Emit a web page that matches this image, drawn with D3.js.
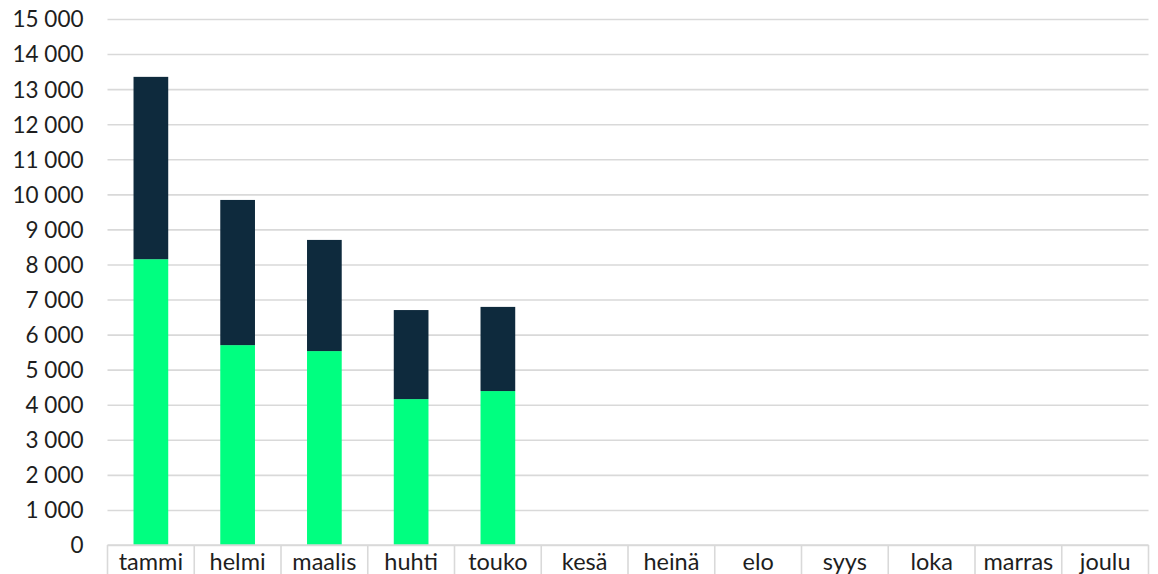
<!DOCTYPE html>
<html><head><meta charset="utf-8">
<script src="https://cdn.jsdelivr.net/npm/d3@7"></script>
<style>body{margin:0;background:#fff;} text{font-family:Lato,"Noto Sans",sans-serif;}</style>
</head><body>
<svg id="c" width="1158" height="574"></svg>
<script>
const months = ["tammi","helmi","maalis","huhti","touko","kesä","heinä","elo","syys","loka","marras","joulu"];
const seriesLower = [8150, 5700, 5530, 4160, 4390, null, null, null, null, null, null, null];
const seriesUpper = [5200, 4140, 3170, 2540, 2400, null, null, null, null, null, null, null];
const yTicks = [0,1000,2000,3000,4000,5000,6000,7000,8000,9000,10000,11000,12000,13000,14000,15000];
const colors = ["#00ff80","#0e2a3d"];

const svg = d3.select("#c");
const x0 = 107.5, x1 = 1148.5, yTop = 19, yBot = 545;
const x = d3.scaleBand().domain(months).range([x0,x1]).paddingInner(0.6).paddingOuter(0.3);
const xb = d3.scaleBand().domain(months).range([x0,x1]).padding(0);
const y = d3.scaleLinear().domain([0,15000]).range([yBot,yTop]);
const fmt = v => d3.format(",")(v).replace(/,/g," ");

// gridlines
const yAxis = d3.axisLeft(y).tickValues(yTicks).tickSize(-(x1-x0)).tickFormat(fmt).tickPadding(24);
const gy = svg.append("g").attr("transform",`translate(${x0},0)`).call(yAxis);
gy.select(".domain").remove();
gy.selectAll(".tick line").attr("stroke","#d9d9d9").attr("stroke-width",1.6);
gy.selectAll(".tick text").attr("fill","#1e1e1e").style("font-size","22.5px").attr("dy","0.35em");

// bars
const stackData = months.map((m,i)=>({m, a: seriesLower[i]||0, b: seriesUpper[i]||0}));
const stack = d3.stack().keys(["a","b"])(stackData);
svg.append("g").selectAll("g").data(stack).join("g").attr("fill",(d,i)=>colors[i])
  .selectAll("rect").data(d=>d.filter(p=>p[1]>p[0])).join("rect")
  .attr("x",d=>x(d.data.m)).attr("width",x.bandwidth())
  .attr("y",d=>y(d[1])).attr("height",d=>y(d[0])-y(d[1]));

// category axis with boxes
const gx = svg.append("g").attr("transform",`translate(0,${yBot})`);
gx.append("line").attr("x1",x0).attr("x2",x1).attr("y1",0).attr("y2",0).attr("stroke","#d9d9d9").attr("stroke-width",1.6);
const seps = months.map(m=>xb(m)).concat([x1]);
gx.selectAll("line.sep").data(seps).join("line").attr("class","sep")
  .attr("x1",d=>d).attr("x2",d=>d).attr("y1",0).attr("y2",40).attr("stroke","#d9d9d9").attr("stroke-width",1.6);
gx.selectAll("text").data(months).join("text")
  .attr("x",d=>xb(d)+xb.bandwidth()/2).attr("y",25).attr("text-anchor","middle")
  .attr("fill","#1e1e1e").style("font-size","23.5px").text(d=>d);
</script>
</body></html>
